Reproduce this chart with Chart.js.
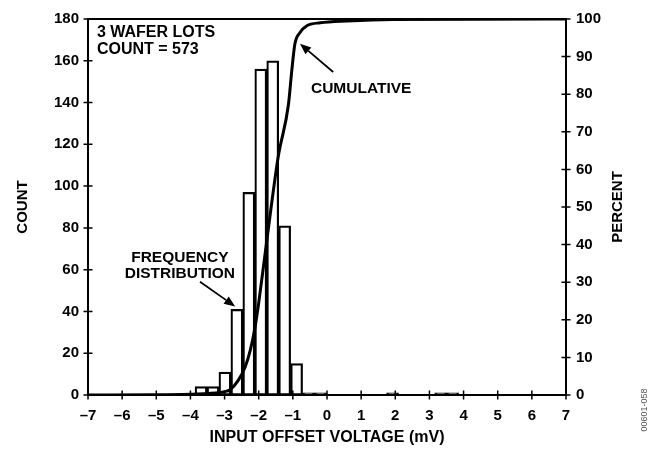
<!DOCTYPE html>
<html>
<head>
<meta charset="utf-8">
<script src="https://cdn.jsdelivr.net/npm/chart.js@4.4.0/dist/chart.umd.min.js"></script>
<style>
  html, body { margin: 0; padding: 0; background: #fff; }
  #wrap { width: 653px; height: 452px; position: relative; }
</style>
</head>
<body>
<div id="wrap"><canvas id="chart"></canvas></div>
<script>
// histogram bins (mV centre) and counts
const binCenters = [-3.69, -3.34, -2.99, -2.64, -2.29, -1.94, -1.59, -1.24, -0.89, -0.54, -0.19, 1.92, 3.33, 3.68];
const binCounts  = [4, 4, 11, 41, 97, 156, 160, 81, 15, 1, 1, 1, 1, 1];

// cumulative curve (mV, %)
const cumVoltage = [-7, -5, -4, -3.5, -3.0, -2.84, -2.6, -2.4, -2.25, -2.11, -2.0, -1.77, -1.43, -1.13, -1.03, -0.94, -0.79, -0.59, -0.2, 0.58, 1.93, 7];
const cumPercent = [0, 0.05, 0.2, 0.4, 0.9, 1.4, 3.9, 7.4, 11.8, 17.9, 24.5, 40.6, 63.3, 77.2, 86.4, 93.4, 96.4, 98.2, 99.0, 99.5, 99.9, 100];

// text annotations, in data units of the count axis
const notes = [
  { text: '3 WAFER LOTS', x: -6.74, y: 171.2, align: 'left', size: 16 },
  { text: 'COUNT = 573',  x: -6.74, y: 163.4, align: 'left', size: 16 },
  { text: 'CUMULATIVE',   x: -0.47, y: 144.5, align: 'left', size: 15.5 },
  { text: 'FREQUENCY',    x: -4.31, y: 63.9,  align: 'center', size: 15.5 },
  { text: 'DISTRIBUTION', x: -4.31, y: 56.2,  align: 'center', size: 15.5 }
];
const arrows = [
  { from: [0.18, 154.6], to: [-0.79, 168.2] },
  { from: [-3.72, 54.2], to: [-2.69, 42.4] }
];

const FONT = '"Liberation Sans", Arial, Helvetica, sans-serif';
Chart.defaults.font.family = FONT;
Chart.defaults.font.weight = 'bold';
Chart.defaults.font.size = 15;
Chart.defaults.color = '#000';

const minus = v => (v < 0 ? '\u2013' + Math.abs(v) : String(v));

// frame, crossing tick marks, right title, notes and arrows
const extras = {
  id: 'extras',
  afterDatasetsDraw(chart) {
    const { ctx, chartArea: a, scales: { x, y, y2 } } = chart;
    ctx.save();
    ctx.strokeStyle = '#000';
    ctx.fillStyle = '#000';
    ctx.lineWidth = 2;
    ctx.strokeRect(a.left, a.top, a.right - a.left, a.bottom - a.top);

    ctx.lineWidth = 1.5;
    ctx.beginPath();
    x.ticks.forEach(t => {
      const px = x.getPixelForValue(t.value);
      ctx.moveTo(px, a.bottom - 4.5); ctx.lineTo(px, a.bottom + 4.5);
    });
    y.ticks.forEach(t => {
      const py = y.getPixelForValue(t.value);
      ctx.moveTo(a.left - 4.5, py); ctx.lineTo(a.left + 4.5, py);
    });
    y2.ticks.forEach(t => {
      const py = y2.getPixelForValue(t.value);
      ctx.moveTo(a.right - 4.5, py); ctx.lineTo(a.right + 4.5, py);
    });
    ctx.stroke();

    // PERCENT reads bottom to top like COUNT
    ctx.save();
    ctx.translate(618, (a.top + a.bottom) / 2);
    ctx.rotate(-Math.PI / 2);
    ctx.font = 'bold 15px ' + FONT;
    ctx.textAlign = 'center';
    ctx.textBaseline = 'middle';
    ctx.fillText('PERCENT', 0, 0);
    ctx.restore();

    ctx.textBaseline = 'alphabetic';
    notes.forEach(n => {
      ctx.font = 'bold ' + n.size + 'px ' + FONT;
      ctx.textAlign = n.align;
      ctx.fillText(n.text, x.getPixelForValue(n.x), y.getPixelForValue(n.y));
    });

    ctx.lineWidth = 1.8;
    arrows.forEach(ar => {
      const x0 = x.getPixelForValue(ar.from[0]), y0 = y.getPixelForValue(ar.from[1]);
      const x1 = x.getPixelForValue(ar.to[0]), y1 = y.getPixelForValue(ar.to[1]);
      const ang = Math.atan2(y1 - y0, x1 - x0);
      const hl = 11, hw = 4.5;
      const bx = x1 - hl * Math.cos(ang), by = y1 - hl * Math.sin(ang);
      ctx.beginPath();
      ctx.moveTo(x0, y0); ctx.lineTo(bx, by);
      ctx.stroke();
      ctx.beginPath();
      ctx.moveTo(x1, y1);
      ctx.lineTo(bx + hw * Math.sin(ang), by - hw * Math.cos(ang));
      ctx.lineTo(bx - hw * Math.sin(ang), by + hw * Math.cos(ang));
      ctx.closePath();
      ctx.fill();
    });

    // figure id
    ctx.save();
    ctx.translate(645, 410);
    ctx.rotate(-Math.PI / 2);
    ctx.font = 'normal 9px ' + FONT;
    ctx.fillStyle = '#555';
    ctx.textAlign = 'center';
    ctx.textBaseline = 'middle';
    ctx.fillText('00601-058', 0, 0);
    ctx.restore();

    ctx.restore();
  }
};

new Chart(document.getElementById('chart'), {
  data: {
    datasets: [
      {
        type: 'line',
        label: 'Cumulative',
        yAxisID: 'y2',
        order: 0,
        data: cumVoltage.map((v, i) => ({ x: v, y: cumPercent[i] })),
        borderColor: '#000',
        borderWidth: 3,
        pointRadius: 0,
        cubicInterpolationMode: 'monotone',
        fill: false
      },
      {
        type: 'bar',
        label: 'Frequency distribution',
        yAxisID: 'y',
        order: 1,
        data: binCenters.map((v, i) => ({ x: v, y: binCounts[i] })),
        backgroundColor: '#fff',
        borderColor: '#000',
        borderWidth: 2.2,
        borderSkipped: false,
        barPercentage: 1,
        categoryPercentage: 1
      }
    ]
  },
  options: {
    responsive: true,
    maintainAspectRatio: false,
    animation: false,
    events: [],
    layout: { padding: { top: 13, right: 0, bottom: 0, left: 0 } },
    plugins: { legend: { display: false }, tooltip: { enabled: false } },
    scales: {
      x: {
        type: 'linear',
        offset: false,
        min: -7, max: 7,
        grid: { display: false, drawTicks: false, offset: false },
        border: { display: false },
        ticks: { stepSize: 1, padding: 12, callback: v => minus(v) },
        title: { display: true, text: 'INPUT OFFSET VOLTAGE (mV)', font: { size: 16 }, padding: { top: 0, bottom: 5 } },
        afterFit: s => { s.height = 57; }
      },
      y: {
        position: 'left',
        min: 0, max: 180,
        grid: { display: false, drawTicks: false },
        border: { display: false },
        ticks: { stepSize: 20, padding: 9 },
        title: { display: true, text: 'COUNT', padding: { top: 14, bottom: 0 } },
        afterFit: s => { s.width = 88; }
      },
      y2: {
        position: 'right',
        min: 0, max: 100,
        grid: { display: false, drawTicks: false },
        border: { display: false },
        ticks: { stepSize: 10, padding: 10 },
        afterFit: s => { s.width = 87; }
      }
    }
  },
  plugins: [extras]
});
</script>
</body>
</html>
